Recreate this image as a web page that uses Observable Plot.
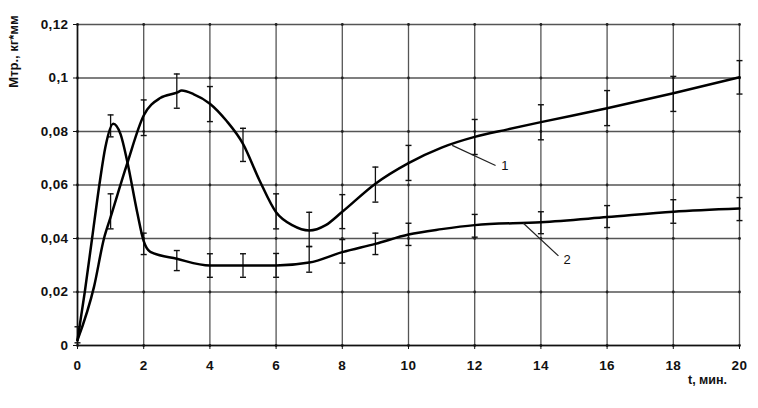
<!DOCTYPE html>
<html>
<head>
<meta charset="utf-8">
<script src="https://cdn.jsdelivr.net/npm/d3@7"></script>
<script src="https://cdn.jsdelivr.net/npm/@observablehq/plot@0.6"></script>
<style>
  html, body { margin: 0; padding: 0; background: #fff; }
  svg { display: block; }
  .tk text { letter-spacing: 0.4px; }
</style>
</head>
<body>
<div id="chart"></div>
<script>
// Curve 1
const t1 = [0, 0.5, 0.8, 1, 1.5, 2, 2.5, 3, 3.15, 3.5, 4, 4.5, 5, 5.5, 6, 6.5, 7, 7.5, 8, 9, 10, 11, 12, 13, 14, 16, 18, 20];
const m1 = [0.002, 0.022, 0.040, 0.048, 0.068, 0.086, 0.0925, 0.0945, 0.0953, 0.094, 0.0904, 0.084, 0.0754, 0.0617, 0.0498, 0.0449, 0.0430, 0.0450, 0.0500, 0.0605, 0.0682, 0.0740, 0.0780, 0.0808, 0.0835, 0.0887, 0.0943, 0.1003];
// Curve 2
const t2 = [0, 0.22, 0.44, 0.68, 0.84, 1.08, 1.3, 1.5, 1.8, 2, 2.2, 3, 4, 5, 6, 7, 8, 9, 10, 11, 12, 14, 16, 18, 20];
const m2 = [0.002, 0.020, 0.040, 0.0617, 0.074, 0.0829, 0.079, 0.069, 0.050, 0.039, 0.035, 0.0324, 0.0299, 0.0299, 0.0299, 0.031, 0.0349, 0.038, 0.0415, 0.0435, 0.0450, 0.0461, 0.0480, 0.0500, 0.0512];
// Error bars, curve 1
const e1t  = [1, 2, 3, 4, 5, 6, 7, 8, 9, 10, 12, 14, 16, 18, 20];
const e1lo = [0.0436, 0.0785, 0.0887, 0.0837, 0.0688, 0.0436, 0.0370, 0.0437, 0.0536, 0.0617, 0.0714, 0.0769, 0.0822, 0.0875, 0.0940];
const e1hi = [0.0567, 0.0918, 0.1015, 0.0968, 0.0812, 0.0567, 0.0498, 0.0564, 0.0667, 0.0748, 0.0845, 0.0900, 0.0953, 0.1006, 0.1065];
// Error bars, curve 2
const e2t  = [0, 1, 2, 3, 4, 5, 6, 7, 8, 9, 10, 12, 14, 16, 18, 20];
const e2lo = [0.001, 0.0780, 0.0340, 0.0280, 0.0255, 0.0255, 0.0255, 0.0274, 0.0308, 0.0340, 0.0374, 0.0405, 0.0418, 0.0441, 0.0457, 0.0467];
const e2hi = [0.007, 0.0862, 0.0420, 0.0355, 0.0343, 0.0343, 0.0344, 0.0370, 0.0396, 0.0420, 0.0457, 0.0490, 0.0500, 0.0523, 0.0545, 0.0553];
// Axes
const xTicks = [0, 2, 4, 6, 8, 10, 12, 14, 16, 18, 20];
const yTicks = [0, 0.02, 0.04, 0.06, 0.08, 0.1, 0.12];
const yTickLabels = ["0", "0,02", "0,04", "0,06", "0,08", "0,1", "0,12"];
const yTitle = "Мтр., кг*мм";
const xTitle = "t, мин.";
// Curve labels and leaders
const seriesLabels = ["1", "2"];
const leaderX1 = [11.32, 13.47];
const leaderY1 = [0.0748, 0.0457];
const leaderX2 = [12.63, 14.53];
const leaderY2 = [0.0673, 0.0335];
const labelX = [12.8, 14.68];
const labelY = [0.0670, 0.0322];

const line1 = t1.map((t, i) => ({t, v: m1[i]}));
const line2 = t2.map((t, i) => ({t, v: m2[i]}));
const bars = [
  ...e1t.map((t, i) => ({t, lo: e1lo[i], hi: e1hi[i]})),
  ...e2t.map((t, i) => ({t, lo: e2lo[i], hi: e2hi[i]}))
];
const gridPts = xTicks.flatMap(x => yTicks.map(y => ({x, y})));
const leaders = seriesLabels.map((s, i) => ({s, x1: leaderX1[i], y1: leaderY1[i], x2: leaderX2[i], y2: leaderY2[i], lx: labelX[i], ly: labelY[i]}));

const cap = {
  draw(ctx, size) {
    const r = Math.sqrt(size / Math.PI);
    ctx.moveTo(-r, 0);
    ctx.lineTo(r, 0);
  }
};
const yFmt = d => yTickLabels[yTicks.findIndex(v => Math.abs(v - d) < 1e-9)];

const chart = Plot.plot({
  width: 758,
  height: 408,
  marginLeft: 77,
  marginRight: 19,
  marginTop: 24,
  marginBottom: 63,
  style: {fontFamily: "'Liberation Sans', Arial, sans-serif", background: "#fff", color: "#111"},
  x: {domain: [0, 20], label: null},
  y: {domain: [0, 0.12], label: null},
  marks: [
    Plot.gridX(xTicks, {stroke: "#555", strokeOpacity: 1, strokeWidth: 1.3}),
    Plot.gridY(yTicks, {stroke: "#555", strokeOpacity: 1, strokeWidth: 1.3}),
    Plot.dot(gridPts, {x: "x", y: "y", r: 1.4, fill: "#222", stroke: "none"}),
    Plot.ruleX([0], {stroke: "#111", strokeWidth: 1.6}),
    Plot.ruleY([0], {stroke: "#111", strokeWidth: 1.6}),
    Plot.axisX({ticks: xTicks, tickSize: 4, tickPadding: 11, fontSize: 13.5, fontWeight: "bold", label: null, className: "tk", stroke: "#111"}),
    Plot.axisY({ticks: yTicks, tickSize: 4, tickPadding: 5, fontSize: 13.5, fontWeight: "bold", label: null, tickFormat: yFmt, className: "tk", stroke: "#111"}),
    Plot.ruleX(bars, {x: "t", y1: "lo", y2: "hi", stroke: "#111", strokeWidth: 1.3}),
    Plot.dot(bars, {x: "t", y: "lo", symbol: cap, r: 3, stroke: "#111", fill: "none", strokeWidth: 1.4}),
    Plot.dot(bars, {x: "t", y: "hi", symbol: cap, r: 3, stroke: "#111", fill: "none", strokeWidth: 1.4}),
    Plot.line(line1, {x: "t", y: "v", curve: "monotone-x", stroke: "#000", strokeWidth: 2.5}),
    Plot.line(line2, {x: "t", y: "v", curve: "monotone-x", stroke: "#000", strokeWidth: 2.5}),
    Plot.link(leaders, {x1: "x1", y1: "y1", x2: "x2", y2: "y2", stroke: "#222", strokeWidth: 1.2}),
    Plot.text(leaders, {x: "lx", y: "ly", text: "s", textAnchor: "start", fontSize: 13, fill: "#111"}),
    Plot.text([yTitle], {text: d => d, frameAnchor: "top-left", rotate: -90, textAnchor: "end",
      dx: -69, dy: -9, fontSize: 13, fontWeight: "bold", fill: "#111"}),
    Plot.text([xTitle], {text: d => d, frameAnchor: "bottom-right", textAnchor: "middle",
      dx: -32, dy: 38, fontSize: 12.5, fontWeight: "bold", fill: "#111"})
  ]
});
document.getElementById("chart").appendChild(chart);
</script>
</body>
</html>
